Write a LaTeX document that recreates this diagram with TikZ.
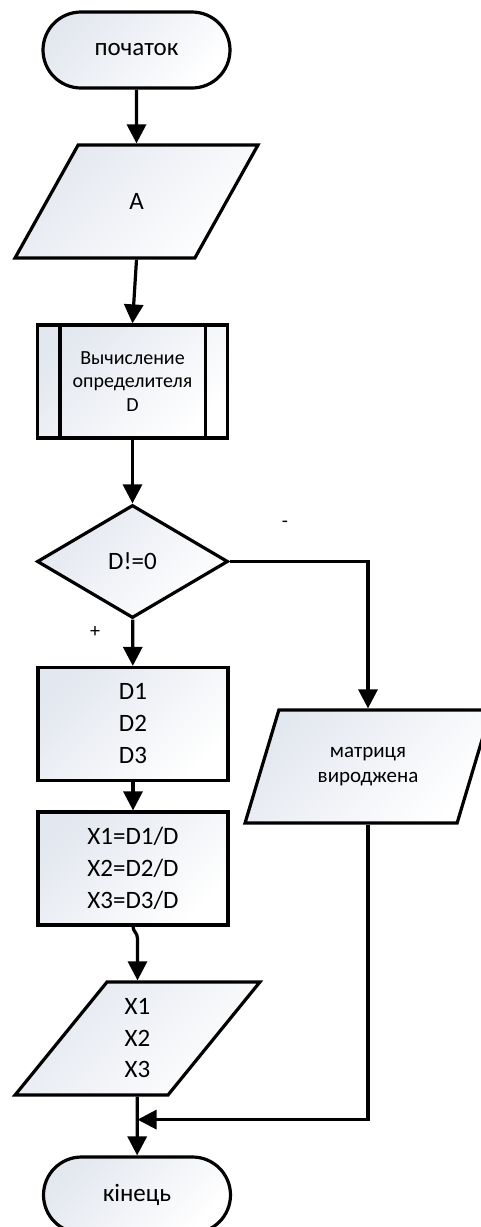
\documentclass[tikz,border=0pt]{standalone}
\usepackage{fontspec}
\setmainfont{Carlito}
\usetikzlibrary{shapes.geometric, arrows.meta}

\definecolor{shadec}{HTML}{E3E7EF}

\tikzset{
  base/.style={draw=black, line width=3.2pt, top color=shadec, bottom color=white,
    shading angle=45, inner sep=0pt, align=center, font=\fontsize{25pt}{30pt}\selectfont},
  terminal/.style={base, rectangle, rounded corners=38pt, minimum width=187pt, minimum height=76pt},
  io/.style={base, trapezium, trapezium left angle=64, trapezium right angle=116,
    trapezium stretches=true, minimum width=243pt, minimum height=113pt},
  proc/.style={base, rectangle, minimum width=190pt, minimum height=113pt},
  decision/.style={base, diamond, aspect=1.7, minimum width=191pt, minimum height=113pt},
  bigtext/.style={font=\fontsize{25pt}{32pt}\selectfont},
  smalltext/.style={font=\fontsize{20pt}{23.5pt}\selectfont},
  flow/.style={line width=3.2pt, -{Triangle[length=19pt,width=19pt]}},
  link/.style={line width=3.2pt},
  mark label/.style={inner sep=0pt, font=\fontsize{20pt}{24pt}\selectfont},
}

\begin{document}
\begin{tikzpicture}[x=1pt, y=1pt]
  \useasboundingbox (0,0) rectangle (481,-1227);

  % blocks
  \node[terminal] (start) at (136.5,-50) {початок};
  \node[io] (inA) at (136.5,-201.5) {A};
  \node[proc, smalltext] (det) at (132.5,-381.5) {Вычисление\\определителя\\D};
  \draw[link] ([xshift=24pt]det.north west) -- ([xshift=24pt]det.south west);
  \draw[link] ([xshift=-24pt]det.north east) -- ([xshift=-24pt]det.south east);
  \node[decision] (cond) at (132.5,-561.5) {D!=0};
  \node[proc, bigtext] (dets) at (133,-724) {D1\\D2\\D3};
  \node[proc, bigtext] (roots) at (133,-868.5) {X1=D1/D\\X2=D2/D\\X3=D3/D};
  \node[io, minimum width=246pt, font=\fontsize{21pt}{25.5pt}\selectfont] (msg) at (368,-766.5)
    {матриця\\вироджена};
  \node[io, minimum width=245pt, font=\fontsize{25pt}{31.5pt}\selectfont] (outX) at (137.5,-1038.5)
    {X1\\X2\\X3};
  \node[terminal] (finish) at (137,-1195) {кінець};

  % branch labels
  \node[mark label] (minus) at (285,-524) {-};
  \node[mark label] (plus) at (95,-632) {+};

  % connectors
  \draw[flow] (start) -- (inA);
  \draw[flow] (inA.south) -- (det.north);
  \draw[flow] (det) -- (cond);
  \draw[flow] (cond) -- (dets);
  \draw[flow] (dets) -- (roots);
  \draw[flow] (cond.east) -| (msg.north);
  \path (roots.south -| outX.north) ++(0,-12) coordinate (bend);
  \draw[flow] (roots.south) .. controls +(0,-5) and +(0,6) .. (bend) -- (outX.north);
  \draw[flow] (outX) -- (finish);
  \path (outX.south) ++(0,-23) coordinate (merge);
  \draw[flow] (msg.south) |- (merge);
\end{tikzpicture}
\end{document}
